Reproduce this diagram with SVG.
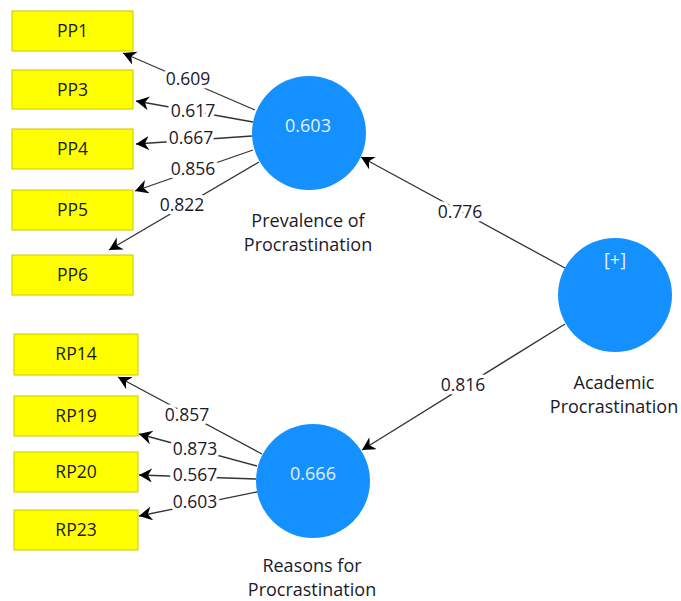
<svg xmlns="http://www.w3.org/2000/svg" width="681" height="601" viewBox="0 0 681 601">
<style>
.box{fill:#ffff00;stroke:#c8c800;stroke-width:1}
.bt{font-family:"Open Sans","Noto Sans",sans-serif;font-size:17.5px;fill:#1a1a1a;text-anchor:middle}
.lv{fill:#1591ff}
.cv{font-family:"Open Sans","Noto Sans",sans-serif;font-size:18px;fill:#e6f0ff;text-anchor:middle}
.nl{font-family:"Open Sans","Noto Sans",sans-serif;font-size:18px;fill:#1a1a2a;text-anchor:middle}
.ln{stroke:#333;stroke-width:1.3;fill:none;marker-end:url(#ah)}
.el{font-family:"Open Sans","Noto Sans",sans-serif;font-size:17.5px;fill:#1a1a2a;text-anchor:middle;stroke:#fff;stroke-width:7;paint-order:stroke;stroke-linejoin:round}
</style>
<defs>
<marker id="ah" markerUnits="userSpaceOnUse" markerWidth="16" markerHeight="16" refX="13" refY="7" orient="auto">
<path d="M0,0 L13,7 L0,14 L4,7 z" fill="#000"/>
</marker>
</defs>
<rect width="681" height="601" fill="#fff"/>
<g id="connectors">
<line class="ln" x1="255" y1="110" x2="123" y2="53"/>
<line class="ln" x1="253" y1="122" x2="136" y2="101"/>
<line class="ln" x1="252" y1="136" x2="136" y2="144"/>
<line class="ln" x1="253" y1="150" x2="135" y2="191"/>
<line class="ln" x1="259" y1="162" x2="109" y2="250"/>
<line class="ln" x1="262" y1="454" x2="118" y2="377"/>
<line class="ln" x1="257" y1="466" x2="139" y2="434"/>
<line class="ln" x1="256" y1="479" x2="139" y2="475"/>
<line class="ln" x1="257" y1="492" x2="139" y2="516"/>
<line class="ln" x1="565" y1="268" x2="361" y2="157"/>
<line class="ln" x1="565" y1="324" x2="362" y2="450"/>
<text class="el" x="188" y="85">0.609</text>
<text class="el" x="193" y="117">0.617</text>
<text class="el" x="191" y="144">0.667</text>
<text class="el" x="193" y="175">0.856</text>
<text class="el" x="182" y="211">0.822</text>
<text class="el" x="187" y="421">0.857</text>
<text class="el" x="195" y="455">0.873</text>
<text class="el" x="195" y="481">0.567</text>
<text class="el" x="195" y="508">0.603</text>
<text class="el" x="460" y="218">0.776</text>
<text class="el" x="463" y="391">0.816</text>
</g>
<g id="PP1"><rect class="box" x="12" y="11" width="121" height="40"/><text class="bt" x="72.5" y="37">PP1</text></g>
<g id="PP3"><rect class="box" x="12" y="70" width="121" height="39"/><text class="bt" x="72.5" y="96">PP3</text></g>
<g id="PP4"><rect class="box" x="12" y="129" width="121" height="40"/><text class="bt" x="72.5" y="155">PP4</text></g>
<g id="PP5"><rect class="box" x="12" y="190" width="121" height="40"/><text class="bt" x="72.5" y="216">PP5</text></g>
<g id="PP6"><rect class="box" x="12" y="255" width="121" height="40"/><text class="bt" x="72.5" y="281">PP6</text></g>
<g id="RP14"><rect class="box" x="14" y="334" width="124" height="41"/><text class="bt" x="76" y="360">RP14</text></g>
<g id="RP19"><rect class="box" x="14" y="396" width="124" height="40"/><text class="bt" x="76" y="422">RP19</text></g>
<g id="RP20"><rect class="box" x="14" y="452" width="124" height="40"/><text class="bt" x="76" y="478">RP20</text></g>
<g id="RP23"><rect class="box" x="14" y="510" width="124" height="40"/><text class="bt" x="76" y="536">RP23</text></g>
<g id="Prevalence"><circle class="lv" cx="309" cy="133" r="57"/><text class="cv" x="308" y="132">0.603</text><text class="nl" x="308" y="227">Prevalence of</text><text class="nl" x="308" y="251">Procrastination</text></g>
<g id="Reasons"><circle class="lv" cx="313" cy="481" r="57"/><text class="cv" x="313" y="480">0.666</text><text class="nl" x="312" y="572">Reasons for</text><text class="nl" x="312" y="596">Procrastination</text></g>
<g id="Academic"><circle class="lv" cx="615" cy="295" r="57"/><text class="cv" x="615" y="266">[+]</text><text class="nl" x="614" y="389">Academic</text><text class="nl" x="614" y="413">Procrastination</text></g>
</svg>
